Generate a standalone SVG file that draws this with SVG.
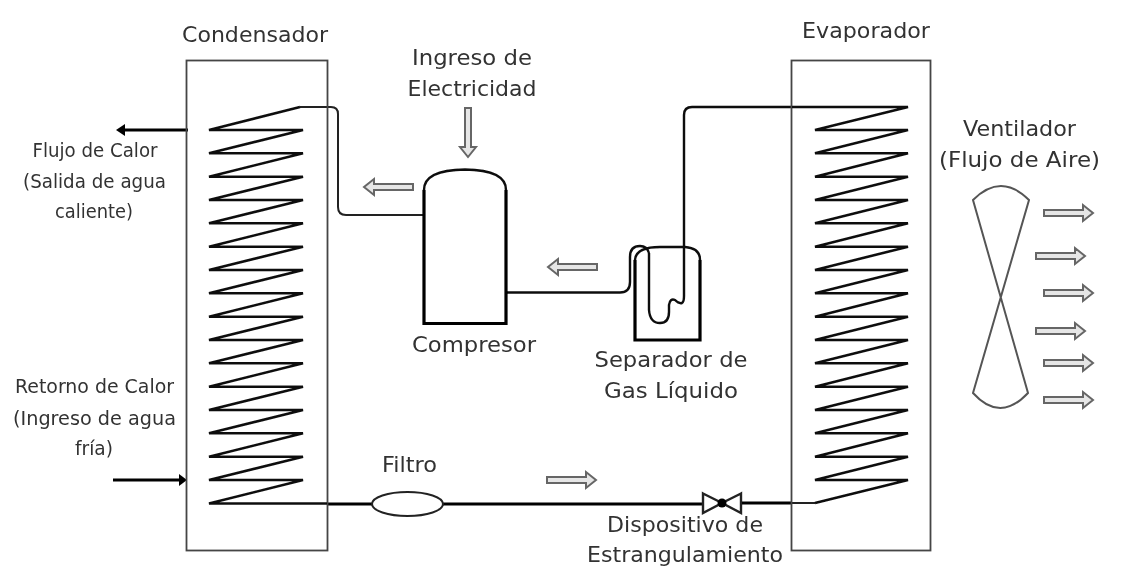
<svg xmlns="http://www.w3.org/2000/svg" width="1130" height="567" viewBox="0 0 1130 567">
<defs>
<style>
.box{fill:none;stroke:#444;stroke-width:1.800}
.pipe{fill:none;stroke:#111;stroke-width:2.400}
.thin{fill:none;stroke:#222;stroke-width:2}
.coil{fill:none;stroke:#111;stroke-width:2.600;stroke-linejoin:miter;stroke-miterlimit:4}
.thick{fill:none;stroke:#000;stroke-width:3.200}
.hollow{fill:#e6e6e6;stroke:#666;stroke-width:2;stroke-linejoin:miter}
text{font-family:"DejaVu Sans",Verdana,sans-serif;font-size:22px;fill:#333;text-anchor:middle}
.s{font-size:20px}
.m{font-size:20px}
</style>
<filter id="soft" x="0" y="0" width="100%" height="100%"><feGaussianBlur stdDeviation="0.5"/></filter>
<path id="ha" class="hollow" d="M0,-3 H39 V-8 L49,0 L39,8 V3 H0 Z"/>
</defs>
<rect width="1130" height="567" fill="#fff"/>
<g filter="url(#soft)">
<g id="connectors">
<path class="thin" d="M300,107 H331 Q338,107 338,114 V207 Q338,215 346,215 H424"/>
<path class="pipe" d="M507,292.500 H620 Q630,292.500 630,282 V257 Q630,246 640,246 Q647,246 649,253"/>
<path class="pipe" d="M649,253 V310 Q650,323 660,323 Q669,323 669,312 V305 Q670,298 675,300 Q679,304 682,303 Q684,302 684,296 V115 Q684,107 692,107 H792"/>
<path class="thick" d="M327,504 H372 M443,504 H703 M741,503 H792"/>
<path class="thin" d="M792,503 H815"/>
<path class="thick" d="M188,130 H124"/>
<path d="M125,124 L116,130 L125,136 Z" fill="#000"/>
<path class="thick" d="M113,480 H180"/>
<path d="M179,474 L187,480 L179,486 Z" fill="#000"/>
</g>
<g id="condensador">
<rect class="box" x="186.500" y="60.500" width="141" height="490"/>
<path class="coil" d="M300,107 L209,130 H303 L209,153.300 H303 L209,176.700 H303 L209,200 H303 L209,223.300 H303 L209,246.700 H303 L209,270 H303 L209,293.300 H303 L209,316.700 H303 L209,340 H303 L209,363.300 H303 L209,386.700 H303 L209,410 H303 L209,433.300 H303 L209,456.700 H303 L209,480 H303 L209,503.500 H327"/>
<text x="255" y="42" textLength="146" lengthAdjust="spacingAndGlyphs">Condensador</text>
</g>
<g id="evaporador">
<rect class="box" x="791.500" y="60.500" width="139" height="490"/>
<path class="coil" d="M792,107 H908 L815,130 H908 L815,153.300 H908 L815,176.700 H908 L815,200 H908 L815,223.300 H908 L815,246.700 H908 L815,270 H908 L815,293.300 H908 L815,316.700 H908 L815,340 H908 L815,363.300 H908 L815,386.700 H908 L815,410 H908 L815,433.300 H908 L815,456.700 H908 L815,480 H908 L815,503"/>
<text x="866" y="38" textLength="128" lengthAdjust="spacingAndGlyphs">Evaporador</text>
</g>
<g id="compresor">
<path class="thick" d="M424,190 V323.500 H506 V190"/>
<path class="pipe" d="M424,190 Q424,170 465,169.500 Q506,170 506,190"/>
<text x="474" y="352" textLength="124" lengthAdjust="spacingAndGlyphs">Compresor</text>
</g>
<g id="separador">
<path class="thick" d="M635,260 V340 H700 V260"/>
<path class="pipe" d="M635,260 Q636,247 660,247 H685 Q700,248 700,260"/>
<text x="671" y="367" textLength="153" lengthAdjust="spacingAndGlyphs">Separador de</text>
<text x="671" y="398" textLength="134" lengthAdjust="spacingAndGlyphs">Gas Líquido</text>
</g>
<g id="filtro">
<ellipse cx="407.500" cy="504" rx="35.500" ry="12" fill="#fff" stroke="#222" stroke-width="2"/>
<text x="409.500" y="472" textLength="55" lengthAdjust="spacingAndGlyphs">Filtro</text>
</g>
<g id="valvula">
<path d="M703,493.500 L722,503 L703,513 Z M741,493.500 L722,503 L741,513 Z" fill="#fff" stroke="#222" stroke-width="2.400"/>
<circle cx="722" cy="503" r="4.500" fill="#000"/>
<text x="685" y="532" textLength="156" lengthAdjust="spacingAndGlyphs">Dispositivo de</text>
<text x="685" y="562" textLength="196" lengthAdjust="spacingAndGlyphs">Estrangulamiento</text>
</g>
<g id="ventilador">
<path d="M973,200 Q1001,172 1029,200 L973,393 Q1000,423 1028,393 Z" fill="#fff" stroke="#555" stroke-width="2"/>
<text x="1019.500" y="136" textLength="113" lengthAdjust="spacingAndGlyphs">Ventilador</text>
<text x="1019.500" y="167" textLength="161" lengthAdjust="spacingAndGlyphs">(Flujo de Aire)</text>
</g>
<g id="flechas">
<use href="#ha" transform="translate(413,187) scale(-1,1)"/>
<use href="#ha" transform="translate(597,267) scale(-1,1)"/>
<use href="#ha" transform="translate(468,108) rotate(90)"/>
<use href="#ha" transform="translate(547,480)"/>
<use href="#ha" transform="translate(1044,213)"/>
<use href="#ha" transform="translate(1036,256)"/>
<use href="#ha" transform="translate(1044,293)"/>
<use href="#ha" transform="translate(1036,331)"/>
<use href="#ha" transform="translate(1044,363)"/>
<use href="#ha" transform="translate(1044,400)"/>
</g>
<g id="ingreso">
<text x="472" y="65" textLength="120" lengthAdjust="spacingAndGlyphs">Ingreso de</text>
<text x="472" y="96" textLength="129" lengthAdjust="spacingAndGlyphs">Electricidad</text>
</g>
<g id="flujo-calor">
<text class="s" x="95" y="157" textLength="125" lengthAdjust="spacingAndGlyphs">Flujo de Calor</text>
<text class="s" x="94.500" y="188" textLength="143" lengthAdjust="spacingAndGlyphs">(Salida de agua</text>
<text class="s" x="94" y="218" textLength="78" lengthAdjust="spacingAndGlyphs">caliente)</text>
</g>
<g id="retorno-calor">
<text class="m" x="94.500" y="393" textLength="159" lengthAdjust="spacingAndGlyphs">Retorno de Calor</text>
<text class="m" x="94.500" y="425" textLength="163" lengthAdjust="spacingAndGlyphs">(Ingreso de agua</text>
<text class="m" x="94" y="455" textLength="38" lengthAdjust="spacingAndGlyphs">fría)</text>
</g>
</g>
</svg>
